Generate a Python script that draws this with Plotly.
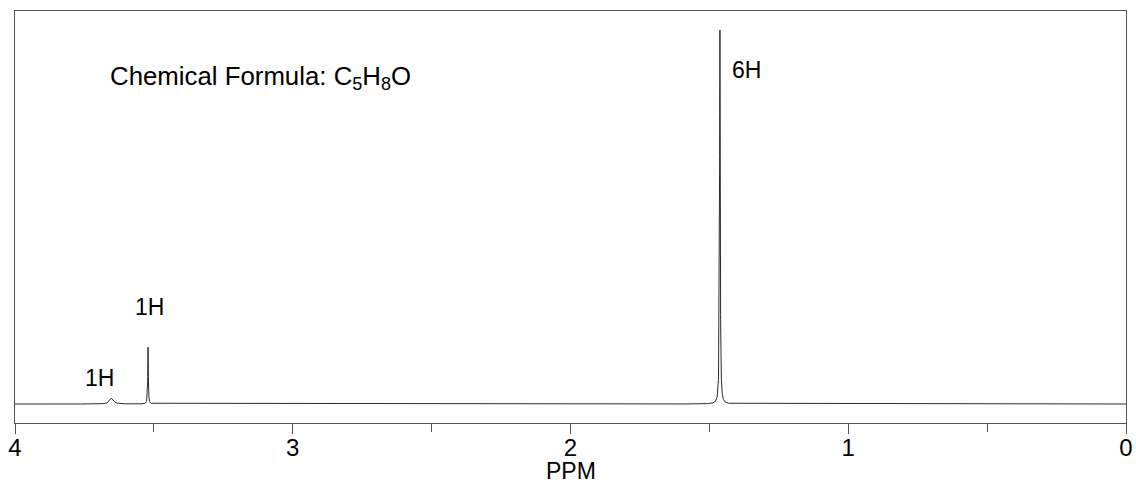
import numpy as np
import plotly.graph_objects as go

# Peak data (ppm, relative intensity, half-width in ppm)
peak_ppm = [3.652, 3.521, 1.462]
peak_height = [0.016, 0.152, 1.0]
peak_width = [0.008, 0.0012, 0.0014]
peak_labels = ["1H", "1H", "6H"]
tick_vals = [4, 3, 2, 1, 0]
tick_text = ["4", "3", "2", "1", "0"]
x_title = "PPM"
formula = "Chemical Formula: C<sub>5</sub>H<sub>8</sub>O"

ppm = np.linspace(0, 4, 16001)
intensity = np.zeros_like(ppm)
for p, h, w in zip(peak_ppm, peak_height, peak_width):
    intensity += h * w**2 / ((ppm - p) ** 2 + w**2)

fig = go.Figure()
fig.add_trace(go.Scatter(x=ppm, y=intensity, mode="lines",
                         line=dict(color="#2a2a2a", width=1), hoverinfo="skip"))

font = "Liberation Sans, Arial, sans-serif"
fig.update_layout(
    width=1136, height=483,
    margin=dict(l=15, r=10, t=11, b=60),
    plot_bgcolor="white", paper_bgcolor="white",
    showlegend=False,
    font=dict(family=font, color="black"),
    xaxis=dict(range=[4, 0], tickvals=tick_vals, ticktext=tick_text,
               ticks="outside", ticklen=10, tickcolor="#555", tickwidth=1,
               showline=True, linecolor="#555", linewidth=1, mirror=True,
               showgrid=False, zeroline=False, automargin=False,
               ticklabeloverflow="allow", ticklabelstandoff=-7,
               tickfont=dict(size=24, family=font),
               minor=dict(dtick=0.5, tick0=0, ticks="outside", ticklen=8, tickcolor="#555", showgrid=False)),
    yaxis=dict(range=[-0.0508, 1.0508], showticklabels=False, ticks="",
               showline=True, linecolor="#555", linewidth=1, mirror=True,
               showgrid=False, zeroline=False, automargin=False),
)

fig.add_annotation(x=0.5, y=-0.117, xref="paper", yref="paper", text=x_title,
                   showarrow=False, xanchor="center", yanchor="middle",
                   font=dict(size=23, family=font))
fig.add_annotation(x=3.694, y=0.07, text=peak_labels[0], showarrow=False,
                   xanchor="center", yanchor="middle", font=dict(size=23, family=font))
fig.add_annotation(x=3.514, y=0.26, text=peak_labels[1], showarrow=False,
                   xanchor="center", yanchor="middle", font=dict(size=23, family=font))
fig.add_annotation(x=1.425, y=0.893, text=peak_labels[2], showarrow=False,
                   xanchor="left", yanchor="middle", font=dict(size=23, family=font))
fig.add_annotation(x=3.665, y=0.872, text=formula,
                   showarrow=False, xanchor="left", yanchor="middle",
                   font=dict(size=25.8, family=font))

fig.write_html("out.html", config={"displayModeBar": False},
               post_script="document.body.style.margin='0';document.body.style.overflow='hidden';")
